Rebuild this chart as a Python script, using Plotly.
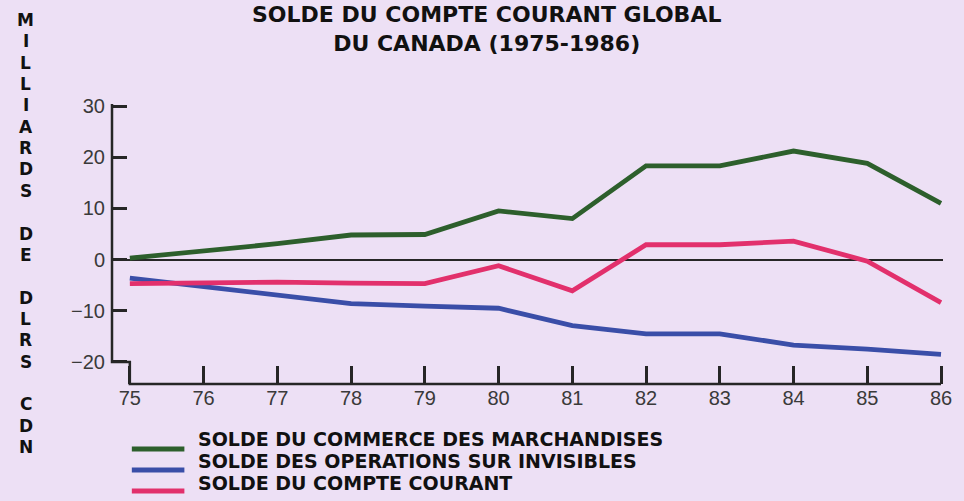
import plotly.graph_objects as go

# ---- data ----
years = list(range(75, 87))
year_labels = [str(y) for y in years]
merch = [0.3, 1.6, 3.1, 4.8, 4.9, 9.5, 8.0, 18.3, 18.3, 21.2, 18.8, 11.0]
invis = [-3.6, -5.2, -6.9, -8.6, -9.1, -9.5, -12.9, -14.5, -14.5, -16.7, -17.5, -18.5]
courant = [-4.7, -4.6, -4.4, -4.6, -4.7, -1.2, -6.1, 2.9, 2.9, 3.6, -0.3, -8.4]
series_names = [
    "SOLDE DU COMMERCE DES MARCHANDISES",
    "SOLDE DES OPERATIONS SUR INVISIBLES",
    "SOLDE DU COMPTE COURANT",
]
series_values = [merch, invis, courant]
colors = ["#2d5f2c", "#3a4ea8", "#e2306c"]
y_ticks = [-20, -10, 0, 10, 20, 30]
title_lines = ["SOLDE DU COMPTE COURANT GLOBAL", "DU CANADA (1975-1986)"]
ylabel_text = "MILLIARDS DE DLRS CDN"

# ---- layout geometry ----
W, H = 964, 501
L, R, T, B = 112, 14, 104, 117
XR = [74.758, 86.027]
YR = [-24.3, 30.39]
PW, PH = W - L - R, H - T - B
BG = "#ede0f5"
AX = "#262626"


def xp_px(px):
    return (px - L) / PW


def yp_px(py):
    return (H - B - py) / PH


def xp_d(x):
    return (x - XR[0]) / (XR[1] - XR[0])


def yp_d(y):
    return (y - YR[0]) / (YR[1] - YR[0])


fig = go.Figure()
for name, vals, col in zip(series_names, series_values, colors):
    fig.add_trace(go.Scatter(x=years, y=vals, mode="lines", name=name,
                             line=dict(color=col, width=4.8), showlegend=False))

shapes = []
# custom stepped axis line
path = (f"M {xp_d(XR[0])},{yp_d(YR[1])} L {xp_d(XR[0])},{yp_d(-20)} "
        f"L {xp_d(75)},{yp_d(-20)} L {xp_d(75)},{yp_d(YR[0])} L {xp_d(86)},{yp_d(YR[0])}")
shapes.append(dict(type="path", xref="paper", yref="paper", path=path,
                   line=dict(color=AX, width=2.5)))

annotations = []
# title (two lines in one text block)
annotations.append(dict(text="<br>".join(title_lines), x=xp_px(490), y=yp_px(28.5),
                        xref="paper", yref="paper", xanchor="center", yanchor="middle",
                        showarrow=False, align="center",
                        font=dict(family="DejaVu Sans", size=22, color="#111111", weight="bold")))
# vertical y label
for i, ch in enumerate(ylabel_text):
    if ch == " ":
        continue
    annotations.append(dict(text=ch, x=xp_px(25), y=yp_px(20 + i * 21.35), xref="paper", yref="paper",
                            xanchor="center", yanchor="middle", showarrow=False,
                            font=dict(family="DejaVu Sans", size=17, color="#111111", weight="bold")))
# legend
for i, (name, col) in enumerate(zip(series_names, colors)):
    ly = 449 + i * 21
    shapes.append(dict(type="line", xref="paper", yref="paper",
                       x0=xp_px(132), x1=xp_px(185), y0=yp_px(ly), y1=yp_px(ly),
                       line=dict(color=col, width=5)))
    annotations.append(dict(text=name, x=xp_px(197), y=yp_px(439 + i * 22), xref="paper", yref="paper",
                            xanchor="left", yanchor="middle", showarrow=False,
                            font=dict(family="DejaVu Sans", size=19, color="#111111", weight="bold")))

fig.update_layout(
    width=W, height=H,
    margin=dict(l=L, r=R, t=T, b=B, pad=0),
    paper_bgcolor=BG, plot_bgcolor=BG,
    shapes=shapes, annotations=annotations,
    showlegend=False,
    xaxis=dict(range=XR, tickvals=years, ticktext=year_labels, ticks="inside", ticklen=18,
               tickwidth=2.5, tickcolor=AX, showgrid=False, zeroline=False, showline=False,
               tickfont=dict(family="Liberation Sans", size=20, color="#3a3a3a")),
    yaxis=dict(range=YR, tickvals=y_ticks, ticks="inside", ticklen=15, tickwidth=2.5,
               tickcolor=AX, showgrid=False, zeroline=True, zerolinecolor=AX, zerolinewidth=2,
               showline=False, ticklabelstandoff=6,
               tickfont=dict(family="Liberation Sans", size=20, color="#3a3a3a")),
)

fig.write_html("out.html", config={"displayModeBar": False},
               post_script="document.body.style.margin='0';document.body.style.background='%s';" % BG)
